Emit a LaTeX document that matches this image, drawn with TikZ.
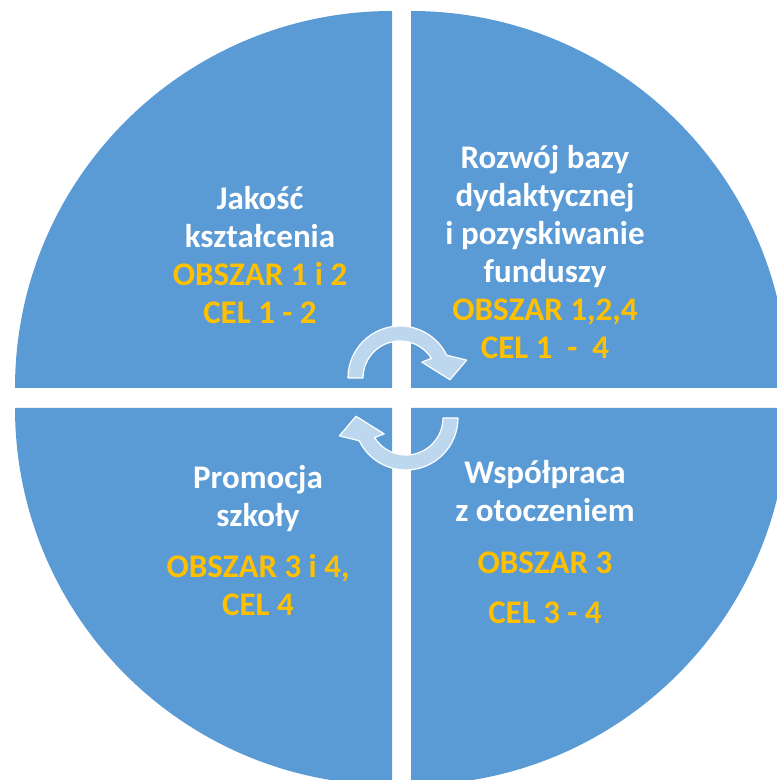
\documentclass[tikz,border=0pt]{standalone}
\usepackage{fontspec}
\setmainfont{Carlito}
\definecolor{quarterblue}{HTML}{5B9BD5}
\definecolor{goalyellow}{HTML}{FFC000}
\definecolor{cyclefill}{HTML}{BDD7EE}
\tikzset{
  quarter/.style={fill=quarterblue},
  areatext/.style={text=white, font=\bfseries\fontsize{33}{38}\selectfont,
    align=center, inner sep=0pt, anchor=north},
  cyclearrow/.style={fill=cyclefill, draw=white, line width=1.2pt, line join=round}
}
\newcommand{\goal}[1]{\textcolor{goalyellow}{#1}}
\begin{document}
\begin{tikzpicture}[x=1pt,y=1pt]
  \useasboundingbox (0,0) rectangle (777,780);
  \clip (0,0) rectangle (777,780);
  % four quarters
  \fill[quarter] (392,392) -- ++(180:377pt) arc[start angle=180, end angle=90, radius=377pt] -- cycle;
  \fill[quarter] (411,392) -- ++(90:377pt) arc[start angle=90, end angle=0, radius=377pt] -- cycle;
  \fill[quarter] (392,372) -- ++(270:377pt) arc[start angle=270, end angle=180, radius=377pt] -- cycle;
  \fill[quarter] (411,372) -- ++(0:377pt) arc[start angle=0, end angle=-90, radius=377pt] -- cycle;
  % cycle arrows
  \coordinate (ctop) at (400,402);
  \coordinate (cbot) at (406,362);
  \filldraw[cyclearrow] ([shift={(180:52pt)}]ctop) arc[start angle=180, end angle=26, radius=52pt]
    -- ([shift={(15:69pt)}]ctop) -- ([shift={(-2:50pt)}]ctop) -- ([shift={(36:27pt)}]ctop)
    -- ([shift={(32:37pt)}]ctop) arc[start angle=32, end angle=180, radius=37pt] -- cycle;
  \filldraw[cyclearrow] ([shift={(0:52pt)}]cbot) arc[start angle=0, end angle=-154, radius=52pt]
    -- ([shift={(-165:69pt)}]cbot) -- ([shift={(-182:50pt)}]cbot) -- ([shift={(-144:27pt)}]cbot)
    -- ([shift={(-148:37pt)}]cbot) arc[start angle=-148, end angle=0, radius=37pt] -- cycle;
  % texts
  \node[areatext] (quality) at (260,594) {Jakość\\kształcenia\\\goal{OBSZAR 1 i 2}\\\goal{CEL 1 - 2}};
  \node[areatext] (base) at (545,635) {Rozwój bazy\\dydaktycznej\\i pozyskiwanie\\funduszy\\\goal{OBSZAR 1,2,4}\\\goal{CEL 1~~-~~4}};
  \node[areatext] (promo) at (258,315) {Promocja\\szkoły\\[13pt]\goal{OBSZAR 3 i 4,}\\\goal{CEL 4}};
  \node[areatext] (coop) at (545,320) {Współpraca\\z otoczeniem\\[14pt]\goal{OBSZAR 3}\\[12pt]\goal{CEL 3 - 4}};
\end{tikzpicture}
\end{document}
